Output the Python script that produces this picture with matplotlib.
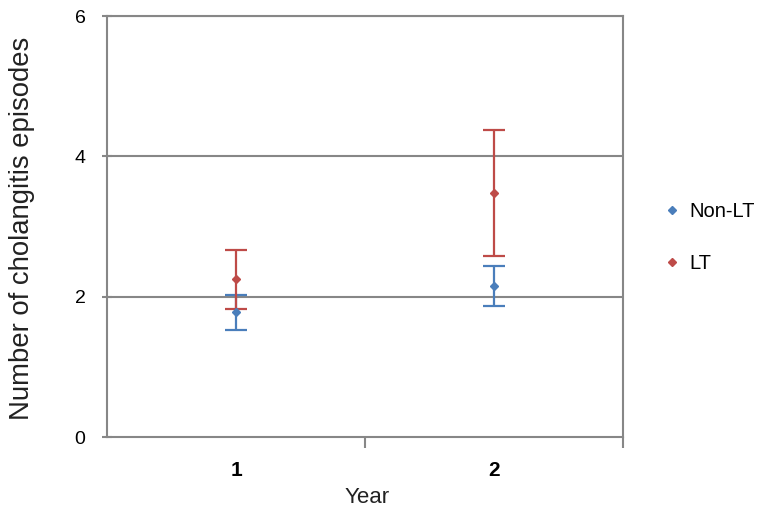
import matplotlib.pyplot as plt
from matplotlib.lines import Line2D

years = [1, 2]
year_labels = ["1", "2"]
non_lt_mean = [1.78, 2.15]
non_lt_err = [0.25, 0.28]
lt_mean = [2.25, 3.48]
lt_err = [0.42, 0.90]

BLUE = "#4a7ebb"
RED = "#be4b48"
GRAY = "#878787"
TEXT = "#222222"

plt.rcParams["font.family"] = ["Liberation Sans", "DejaVu Sans"]

fig = plt.figure(figsize=(7.7, 5.11), dpi=100)
ax = fig.add_axes([107 / 770, 1 - 437 / 511, (623 - 107) / 770, (437 - 16) / 511])

ax.errorbar(years, non_lt_mean, yerr=non_lt_err, fmt="D", color=BLUE, ms=4.5,
            ecolor=BLUE, elinewidth=1.6, capsize=8, capthick=1.6, zorder=3)
ax.errorbar(years, lt_mean, yerr=lt_err, fmt="D", color=RED, ms=4.5,
            ecolor=RED, elinewidth=1.6, capsize=8, capthick=1.6, zorder=3)

ax.set_xlim(0.5, 2.5)
ax.set_ylim(0, 6)
ax.set_yticks([0, 2, 4, 6])
ax.set_xticks(years)
ax.set_xticklabels(year_labels, fontsize=15, fontweight="bold")
ax.set_xticks([1.5, 2.5], minor=True)
ax.tick_params(axis="x", which="major", length=0, pad=17)
ax.tick_params(axis="x", which="minor", length=8, width=1.5, color=GRAY, direction="out")
ax.tick_params(axis="y", length=7, width=1.5, color=GRAY, direction="inout", labelsize=14, pad=12)

for y in [2, 4, 6]:
    ax.axhline(y, color=GRAY, lw=1.5, zorder=1)
for s in ax.spines.values():
    s.set_color(GRAY)
    s.set_linewidth(1.5)

ax.set_ylabel("Number of cholangitis episodes", fontsize=19.8, color=TEXT, va="center")
ax.yaxis.set_label_coords(-0.165, 0.495)
fig.text(367 / 770, 1 - 497 / 511, "Year", fontsize=16, color=TEXT, ha="center", va="center")

handles = [Line2D([], [], marker="D", ls="none", color=BLUE, ms=4.5),
           Line2D([], [], marker="D", ls="none", color=RED, ms=4.5)]
ax.legend(handles, ["Non-LT", "LT"], loc="center left", bbox_to_anchor=(1.079, 0.474),
          frameon=False, fontsize=14.5, borderpad=0, borderaxespad=0,
          handlelength=0.8, handletextpad=0.45, labelspacing=1.6)

fig.savefig("out.png", dpi=100)
